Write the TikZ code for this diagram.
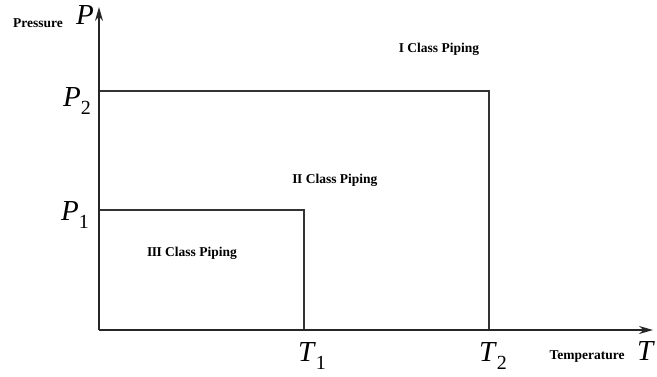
\documentclass[tikz,border=0pt]{standalone}
\usepackage{fontspec}
\setmainfont{Liberation Serif}
\usetikzlibrary{arrows.meta}
\newcommand{\symb}[2]{\fontsize{29}{29}\selectfont\textit{#1}\raisebox{-0.3em}{\fontsize{20}{20}\selectfont #2}}
\tikzset{
  axis/.style={line width=1.7pt, draw=black!85, -{Stealth[length=14pt,width=8pt]}},
  bound/.style={line width=1.3pt, draw=black!80},
  lbl/.style={inner sep=0pt, font=\fontsize{13.5}{14}\selectfont\bfseries},
  sym/.style={inner sep=0pt},
}
\begin{document}
\begin{tikzpicture}[x=1pt,y=-1pt]
\useasboundingbox (0,0) rectangle (657,376);
\coordinate (O) at (99,330);
\coordinate (Ytop) at (99,7);
\coordinate (Xend) at (653,330);
\coordinate (P2a) at (99,91);
\coordinate (C2) at (489,91);
\coordinate (T2a) at (489,330);
\coordinate (P1a) at (99,210);
\coordinate (C1) at (304,210);
\coordinate (T1a) at (304,330);
\draw[bound] (P2a) -- (C2) -- (T2a);
\draw[bound] (P1a) -- (C1) -- (T1a);
\draw[axis] (O) -- (Ytop);
\draw[axis] (O) -- (Xend);
\node[lbl] (pres) at (38,23) {Pressure};
\node[sym] (P) at (85,19) {\symb{P}{}};
\node[sym] (P2) at (77,101) {\symb{P}{2}};
\node[sym] (P1) at (75,215) {\symb{P}{1}};
\node[sym] (T1) at (312,356) {\symb{T}{1}};
\node[sym] (T2) at (493,356) {\symb{T}{2}};
\node[lbl] (temp) at (587,357) {Temperature};
\node[sym] (T) at (646,355) {\symb{T}{}};
\node[lbl] (c1) at (439,49) {I Class Piping};
\node[lbl] (c2) at (335,180) {I\kern-0.5ptI Class Piping};
\node[lbl] (c3) at (192,253) {I\kern-0.5ptI\kern-0.5ptI Class Piping};
\end{tikzpicture}
\end{document}
